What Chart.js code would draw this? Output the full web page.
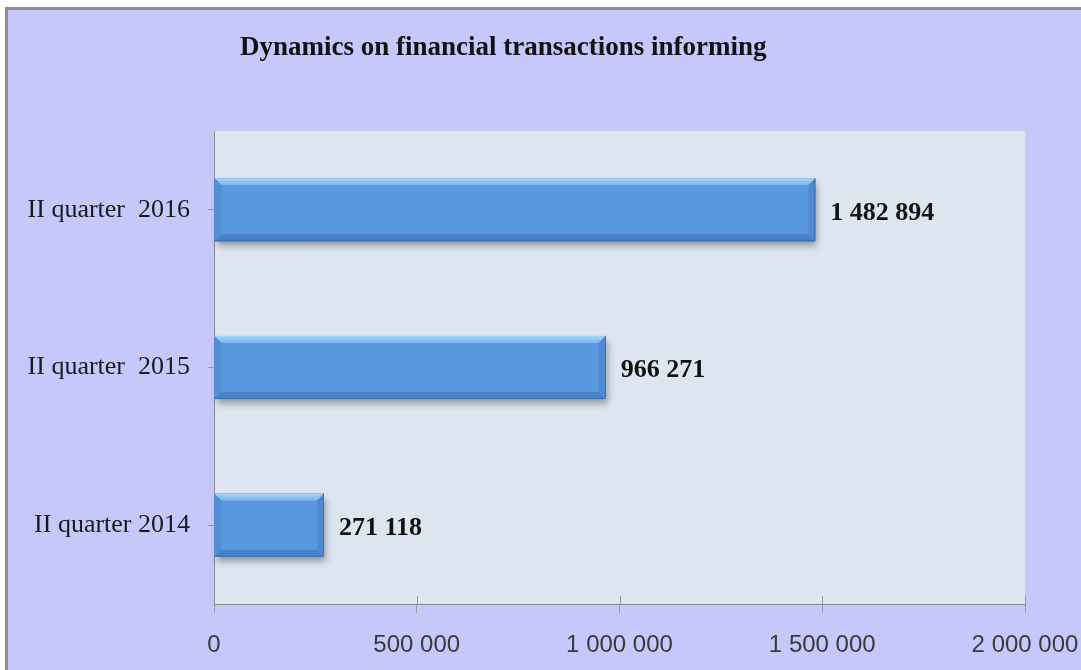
<!DOCTYPE html>
<html>
<head>
<meta charset="utf-8">
<script src="https://cdn.jsdelivr.net/npm/chart.js@4/dist/chart.umd.min.js"></script>
<style>
  html, body { margin: 0; padding: 0; background: #ffffff; width: 1081px; height: 670px; overflow: hidden; }
  #wrap { position: absolute; left: 5px; top: 7px; width: 1073px; height: 660px;
          border-left: 3px solid #8e8e8e; border-top: 3px solid #8e8e8e; background: #c6c8fc; }
  canvas { display: block; }
</style>
</head>
<body>
<div id="wrap"><canvas id="c" width="1073" height="660"></canvas></div>
<script>
const TITLE = 'Dynamics on financial transactions informing';
const categories = ['II quarter 2014', 'II quarter  2015', 'II quarter  2016'];
const values = [271118, 966271, 1482894];
const xTicks = [0, 500000, 1000000, 1500000, 2000000];

function fmt(v) { return String(v).replace(/\B(?=(\d{3})+(?!\d))/g, ' '); }

const plotBg = {
  id: 'plotBg',
  beforeDraw(chart) {
    const { ctx, chartArea: a } = chart;
    ctx.save();
    ctx.fillStyle = '#dde5f0';
    ctx.fillRect(a.left, a.top, a.right - a.left, a.bottom - a.top);
    ctx.restore();
  }
};

const headline = {
  id: 'headline',
  afterDraw(chart) {
    const ctx = chart.ctx;
    ctx.save();
    ctx.font = 'bold 27px "Liberation Serif", "DejaVu Serif", serif';
    ctx.fillStyle = '#111111';
    ctx.textAlign = 'left';
    ctx.textBaseline = 'middle';
    ctx.fillText(TITLE, 232, 38);
    ctx.restore();
  }
};

const bevel = {
  id: 'bevel',
  beforeDatasetsDraw(chart) {
    const ctx = chart.ctx;
    const meta = chart.getDatasetMeta(0);
    ctx.save();
    meta.data.forEach(el => {
      const top = el.y - el.height / 2, left = Math.min(el.base, el.x), w = Math.abs(el.x - el.base);
      ctx.shadowColor = 'rgba(0,0,0,0.35)';
      ctx.shadowBlur = 7;
      ctx.shadowOffsetX = 2;
      ctx.shadowOffsetY = 5;
      ctx.fillStyle = '#5a98dd';
      ctx.fillRect(left, top, w, el.height);
    });
    ctx.restore();
  },
  afterDatasetsDraw(chart) {
    const ctx = chart.ctx;
    const meta = chart.getDatasetMeta(0);
    ctx.save();
    meta.data.forEach((el, i) => {
      const t = el.y - el.height / 2, b = el.y + el.height / 2;
      const l = Math.min(el.base, el.x), r = Math.max(el.base, el.x);
      const d = 7;
      const poly = (pts, color) => {
        ctx.beginPath();
        ctx.moveTo(pts[0][0], pts[0][1]);
        for (let k = 1; k < pts.length; k++) ctx.lineTo(pts[k][0], pts[k][1]);
        ctx.closePath();
        ctx.fillStyle = color;
        ctx.fill();
      };
      const gTop = ctx.createLinearGradient(0, t, 0, t + d);
      gTop.addColorStop(0, '#a6d6fb');
      gTop.addColorStop(1, '#78b4ee');
      poly([[l, t], [r, t], [r - d, t + d], [l + d, t + d]], gTop);
      poly([[l, b], [r, b], [r - d, b - d], [l + d, b - d]], '#4a80c4');
      poly([[r, t], [r, b], [r - d, b - d], [r - d, t + d]], '#4f8ad0');
      poly([[l, t], [l, b], [l + d, b - d], [l + d, t + d]], '#4f8fd8');
      ctx.strokeStyle = '#3f6fae';
      ctx.lineWidth = 1;
      ctx.beginPath();
      ctx.moveTo(l, b - 0.5); ctx.lineTo(r - 0.5, b - 0.5); ctx.lineTo(r - 0.5, t);
      ctx.stroke();
      // value label
      ctx.font = 'bold 26px "Liberation Serif", "DejaVu Serif", serif';
      ctx.fillStyle = '#111111';
      ctx.textAlign = 'left';
      ctx.textBaseline = 'middle';
      ctx.fillText(fmt(values[i]), r + 15, el.y + 3);
    });
    ctx.restore();
  }
};

const innerTicks = {
  id: 'innerTicks',
  afterDraw(chart) {
    const { ctx, chartArea: a } = chart;
    const xs = chart.scales.x;
    ctx.save();
    ctx.strokeStyle = '#9a9a9a';
    ctx.lineWidth = 1;
    xTicks.forEach(v => {
      if (v === 0) return;
      const px = Math.round(xs.getPixelForValue(v)) + 0.5;
      ctx.beginPath();
      ctx.moveTo(px, a.bottom - 8);
      ctx.lineTo(px, a.bottom);
      ctx.stroke();
    });
    ctx.restore();
  }
};

Chart.defaults.font.family = '"Liberation Serif", "DejaVu Serif", serif';

new Chart(document.getElementById('c'), {
  type: 'bar',
  data: {
    labels: categories,
    datasets: [{
      data: values,
      backgroundColor: '#5a98dd',
      borderWidth: 0,
      barPercentage: 0.4,
      categoryPercentage: 1.0
    }]
  },
  options: {
    indexAxis: 'y',
    responsive: false,
    animation: false,
    layout: { padding: { top: 121, right: 56, bottom: 0, left: 0 } },
    plugins: { legend: { display: false }, tooltip: { enabled: false }, title: { display: false } },
    scales: {
      x: {
        min: 0, max: 2000000,
        afterBuildTicks(axis) { axis.ticks = xTicks.map(v => ({ value: v })); },
        afterFit(axis) { axis.height = 66; axis.paddingRight = 0; axis.paddingLeft = 0; },
        border: { display: true, color: '#8c8c8c', width: 1 },
        grid: { display: true, drawOnChartArea: false, drawTicks: true, tickLength: 9, color: '#9a9a9a' },
        ticks: {
          padding: 18,
          color: '#3a3a3a',
          font: { family: '"Liberation Sans", Arial, sans-serif', size: 24 },
          maxRotation: 0,
          callback: (v) => fmt(v)
        }
      },
      y: {
        reverse: true,
        afterFit(axis) { axis.width = 206; },
        border: { display: true, color: '#8c8c8c', width: 1 },
        grid: { display: true, offset: false, drawOnChartArea: false, drawTicks: true, tickLength: 6, color: '#9a9a9a' },
        ticks: {
          padding: 18,
          color: '#1a1a1a',
          font: { family: '"Liberation Serif", "DejaVu Serif", serif', size: 26 }
        }
      }
    }
  },
  plugins: [plotBg, bevel, innerTicks, headline]
});
</script>
</body>
</html>
